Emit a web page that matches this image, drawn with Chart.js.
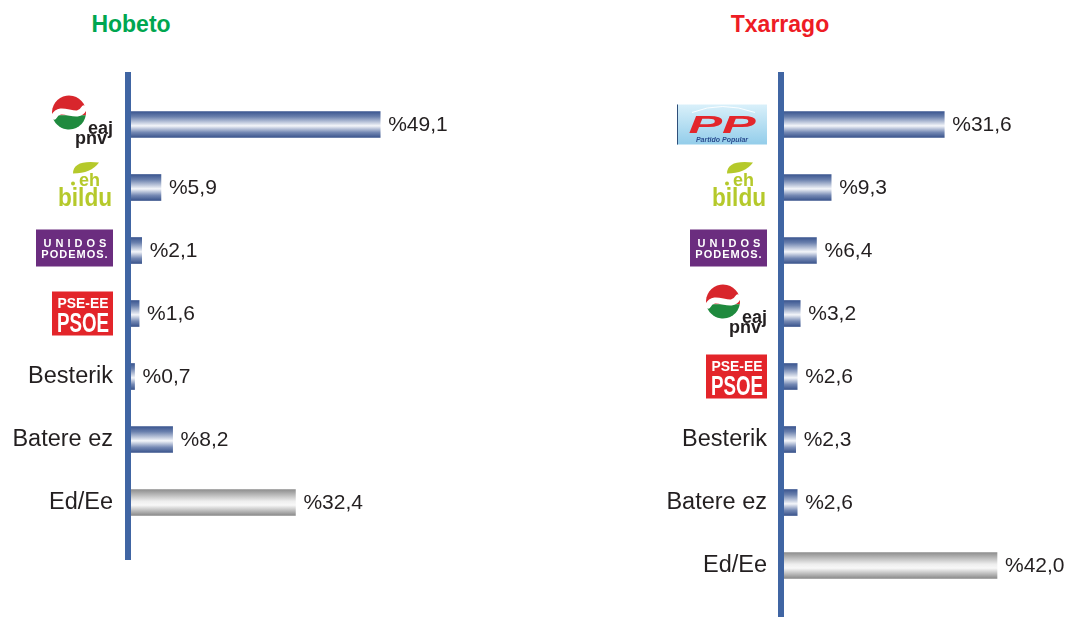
<!DOCTYPE html>
<html>
<head>
<meta charset="utf-8">
<script src="https://cdn.jsdelivr.net/npm/chart.js@4"></script>
<style>
  body { margin: 0; background: #fff; width: 1072px; height: 619px; overflow: hidden; position: relative;
         font-family: 'Liberation Sans', Arial, sans-serif; }
  .title { position: absolute; top: 13px; font-weight: bold; font-size: 23px; line-height: 22px;
           transform: translateX(-50%); white-space: nowrap; }
  #t-better { left: 131px; color: #00a650; }
  #t-worse { left: 780px; color: #ee1c25; }
  canvas { position: absolute; top: 0; }
  #better { left: 0; }
  #worse { left: 537px; }
</style>
</head>
<body>
<div class="title" id="t-better">Hobeto</div>
<div class="title" id="t-worse">Txarrago</div>
<canvas id="better" width="537" height="619"></canvas>
<canvas id="worse" width="535" height="619"></canvas>
<script>
// --- DATA ---
const betterLabels = ['EAJ-PNV', 'EH Bildu', 'Unidos Podemos', 'PSE-EE PSOE', 'Besterik', 'Batere ez', 'Ed/Ee'];
const betterValues = [49.1, 5.9, 2.1, 1.6, 0.7, 8.2, 32.4];
const worseLabels = ['PP', 'EH Bildu', 'Unidos Podemos', 'EAJ-PNV', 'PSE-EE PSOE', 'Besterik', 'Batere ez', 'Ed/Ee'];
const worseValues = [31.6, 9.3, 6.4, 3.2, 2.6, 2.3, 2.6, 42.0];

const FONT = "'Liberation Sans', Arial, sans-serif";
const NARROW = "'Liberation Sans Narrow', 'Liberation Sans', Arial, sans-serif";

// --- LOGO SKETCHES (drawn at the tick position) ---
const logos = {
    'EAJ-PNV': (c, R, cy) => {
        const cx = R - 44, sy = cy - 12, r = 17;
        c.fillStyle = '#d8262c';
        c.beginPath(); c.arc(cx, sy, r, Math.PI * 0.95, Math.PI * 2.05); c.closePath(); c.fill();
        c.fillStyle = '#1f8a3e';
        c.beginPath(); c.arc(cx, sy, r, Math.PI * 0.05, Math.PI * 0.95); c.closePath(); c.fill();
        c.strokeStyle = '#fff'; c.lineWidth = 6; c.lineCap = 'round';
        c.beginPath(); c.moveTo(cx - r + 2, sy + 4);
        c.bezierCurveTo(cx - 8, sy - 9, cx + 8, sy + 9, cx + r - 2, sy - 4); c.stroke();
        c.fillStyle = '#231f20'; c.textAlign = 'right'; c.textBaseline = 'alphabetic';
        c.font = 'bold 18px ' + FONT;
        c.fillText('eaj', R, cy + 9);
        c.fillText('pnv', R - 6, cy + 19);
    },
    'EH Bildu': (c, R, cy) => {
        c.fillStyle = '#b5c92b';
        c.beginPath();
        c.moveTo(R - 40, cy - 14);
        c.quadraticCurveTo(R - 40, cy - 28, R - 14, cy - 25);
        c.quadraticCurveTo(R - 22, cy - 14, R - 40, cy - 14);
        c.fill();
        c.beginPath(); c.arc(R - 40, cy - 4, 2, 0, Math.PI * 2); c.fill();
        c.textAlign = 'right'; c.textBaseline = 'alphabetic';
        c.font = 'bold 18px ' + FONT;
        c.fillText('eh', R - 13, cy - 2);
        c.font = 'bold 25px ' + FONT;
        c.fillText('bildu', R - 1, cy + 18, 54);
    },
    'Unidos Podemos': (c, R, cy) => {
        c.fillStyle = '#6b2d7f';
        c.fillRect(R - 77, cy - 21, 77, 37);
        c.fillStyle = '#fff'; c.textAlign = 'center'; c.textBaseline = 'alphabetic';
        c.font = 'bold 11px ' + FONT;
        c.letterSpacing = '4px';
        c.fillText('UNIDOS', R - 36, cy - 4);
        c.letterSpacing = '1px';
        c.fillText('PODEMOS.', R - 38, cy + 7);
        c.letterSpacing = '0px';
    },
    'PSE-EE PSOE': (c, R, cy) => {
        c.fillStyle = '#e3252a';
        c.fillRect(R - 61, cy - 22, 61, 44);
        c.fillStyle = '#fff'; c.textAlign = 'center'; c.textBaseline = 'alphabetic';
        c.font = 'bold 15px ' + NARROW;
        c.fillText('PSE-EE', R - 30, cy - 6, 51);
        c.font = 'bold 27px ' + NARROW;
        c.fillText('PSOE', R - 30, cy + 18, 52);
    },
    'PP': (c, R, cy) => {
        const g = c.createLinearGradient(0, cy - 20, 0, cy + 20);
        g.addColorStop(0, '#d9f0fa');
        g.addColorStop(1, '#93cdea');
        c.fillStyle = g;
        c.fillRect(R - 90, cy - 20, 90, 40);
        c.fillStyle = '#2f4f7a';
        c.fillRect(R - 90, cy - 20, 1, 40);
        c.strokeStyle = 'rgba(255,255,255,0.9)'; c.lineWidth = 1;
        c.beginPath(); c.moveTo(R - 75, cy - 12); c.quadraticCurveTo(R - 45, cy - 24, R - 12, cy - 12); c.stroke();
        c.save();
        c.translate(R - 45, cy + 8);
        c.scale(2.1, 1);
        c.fillStyle = '#e3262b'; c.textAlign = 'center'; c.textBaseline = 'alphabetic';
        c.font = 'italic bold 24px ' + FONT;
        c.fillText('PP', 0, 0);
        c.restore();
        c.fillStyle = '#2a4d8f'; c.textAlign = 'center';
        c.font = 'italic bold 7px ' + FONT;
        c.fillText('Partido Popular', R - 45, cy + 16);
    }
};

// --- BAR FILL ---
function barFill(ctx) {
    const chart = ctx.chart;
    if (!chart.chartArea || ctx.type !== 'data') return '#4a6398';
    const y = chart.scales.y.getPixelForValue(ctx.dataIndex);
    const g = chart.ctx.createLinearGradient(0, y - 13, 0, y + 13);
    if (chart.data.labels[ctx.dataIndex] === 'Ed/Ee') {
        g.addColorStop(0, '#8e8e8e');
        g.addColorStop(0.45, '#eeeeee');
        g.addColorStop(0.6, '#f8f8f8');
        g.addColorStop(1, '#8a8a8a');
    } else {
        g.addColorStop(0, '#3b5690');
        g.addColorStop(0.2, '#6a80ad');
        g.addColorStop(0.55, '#f4f6fa');
        g.addColorStop(0.8, '#7589b4');
        g.addColorStop(1, '#3a548c');
    }
    return g;
}

// --- AXIS LINE, VALUES, LOGOS ---
const decorPlugin = {
    id: 'decor',
    beforeDatasetsDraw(chart, args, opts) {
        const c = chart.ctx;
        const x = chart.scales.x.getPixelForValue(0);
        c.save();
        c.fillStyle = '#4065a3';
        c.fillRect(x - 6, opts.lineTop, 6, opts.lineBottom - opts.lineTop);
        c.restore();
    },
    afterDatasetsDraw(chart, args, opts) {
        const c = chart.ctx;
        const values = chart.data.datasets[0].data;
        c.save();
        c.font = '21px ' + FONT;
        c.fillStyle = '#231f20';
        c.textAlign = 'left';
        c.textBaseline = 'middle';
        chart.getDatasetMeta(0).data.forEach((bar, i) => {
            c.fillText('%' + values[i].toFixed(1).replace('.', ','), bar.x + 8, bar.y + 1);
        });
        const R = chart.chartArea.left - opts.labelGap;
        chart.data.labels.forEach((lab, i) => {
            if (logos[lab]) {
                c.save();
                logos[lab](c, R, chart.scales.y.getPixelForValue(i));
                c.restore();
            }
        });
        c.restore();
    }
};

function makeChart(id, labels, values, cfg) {
    return new Chart(document.getElementById(id), {
        type: 'bar',
        data: {
            labels: labels,
            datasets: [{ data: values, backgroundColor: barFill, borderWidth: 0, barThickness: 26 }]
        },
        options: {
            indexAxis: 'y',
            responsive: false,
            animation: false,
            layout: { padding: { top: 93, bottom: cfg.bottom, left: 0, right: cfg.right } },
            plugins: {
                legend: { display: false },
                tooltip: { enabled: false },
                decor: { lineTop: 72, lineBottom: cfg.lineBottom, labelGap: cfg.gap }
            },
            scales: {
                x: { display: false, min: 0, max: cfg.max },
                y: {
                    grid: { display: false, drawTicks: false },
                    border: { display: false },
                    ticks: {
                        padding: cfg.gap,
                        color: '#231f20',
                        font: { family: FONT, size: 23.5 },
                        callback(v) {
                            const l = this.getLabelForValue(v);
                            return logos[l] ? '' : l;
                        }
                    },
                    afterFit(s) {
                        s.width = cfg.left;
                        s.paddingTop = 0;
                        s.paddingBottom = 0;
                    }
                }
            }
        },
        plugins: [decorPlugin]
    });
}

makeChart('better', betterLabels, betterValues, { left: 131, right: 0, max: 80, bottom: 85, lineBottom: 560, gap: 18 });
makeChart('worse', worseLabels, worseValues, { left: 247, right: 4, max: 56, bottom: 22, lineBottom: 617, gap: 17 });
</script>
</body>
</html>
